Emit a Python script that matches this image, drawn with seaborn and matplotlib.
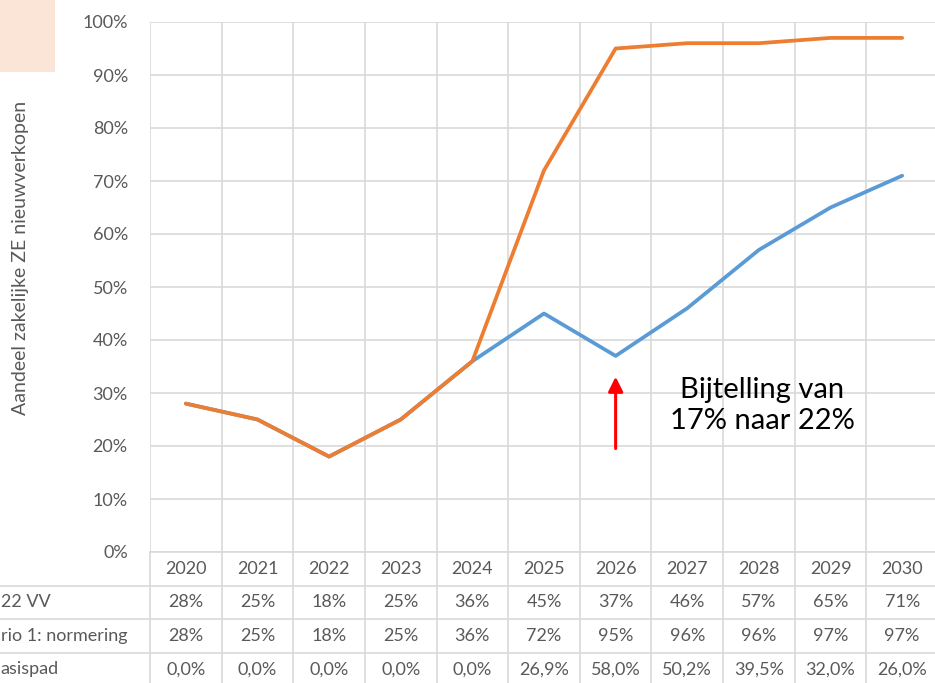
import pandas as pd
import matplotlib.pyplot as plt
import seaborn as sns
from matplotlib.patches import Rectangle

years = [2020, 2021, 2022, 2023, 2024, 2025, 2026, 2027, 2028, 2029, 2030]
kev_vv = [28, 25, 18, 25, 36, 45, 37, 46, 57, 65, 71]
normering = [28, 25, 18, 25, 36, 72, 95, 96, 96, 97, 97]
basispad = ['0,0%', '0,0%', '0,0%', '0,0%', '0,0%', '26,9%', '58,0%', '50,2%', '39,5%', '32,0%', '26,0%']
row_labels = ['22 VV', 'rio 1: normering', 'asispad']
series_names = ['KEV 2022 VV', 'Scenario 1: normering']
yticks = [0, 10, 20, 30, 40, 50, 60, 70, 80, 90, 100]

sns.set_theme(style='white')
plt.rcParams['font.family'] = ['Lato', 'DejaVu Sans']

grey = '#595959'
gridc = '#D9D9D9'
colors = {'KEV 2022 VV': '#5B9BD5', 'Scenario 1: normering': '#ED7D31'}

df = pd.DataFrame({
    'year': years * 2,
    'value': kev_vv + normering,
    'series': [series_names[0]] * len(years) + [series_names[1]] * len(years),
})

W, H = 935, 683
fig = plt.figure(figsize=(W / 100, H / 100), dpi=100)

# pixel geometry of the plot area
x0, x1 = 150, 938
y_top, y_bot = 22, 552
ax = fig.add_axes([x0 / W, 1 - y_bot / H, (x1 - x0) / W, (y_bot - y_top) / H])

sns.lineplot(data=df, x='year', y='value', hue='series', palette=colors,
             hue_order=series_names, linewidth=2.7, ax=ax, legend=False)
for ln in ax.lines:
    ln.set_solid_capstyle('round')
    ln.set_solid_joinstyle('round')

ax.set_xlim(years[0] - 0.5, years[-1] + 0.5)
ax.set_ylim(0, 100)
ax.set_yticks(yticks)
ax.set_yticklabels([f'{t}%' for t in yticks], color=grey, fontsize=13)
ax.tick_params(axis='y', length=0, pad=16)
ax.set_xticks([])
bounds = [y - 0.5 for y in years] + [years[-1] + 0.5]
for b in bounds:
    ax.axvline(b, color=gridc, lw=1.2, zorder=0)
for t in yticks:
    ax.axhline(t, color=gridc, lw=1.2, zorder=0)
for s in ax.spines.values():
    s.set_visible(False)
ax.set_xlabel('')
ax.set_ylabel('')

# annotation
ax.annotate('', xy=(2026, 33.6), xytext=(2026, 19.0),
            arrowprops=dict(arrowstyle='-|>', color='red', lw=2.2, mutation_scale=22))
ax.text(2028.05, 27.7, 'Bijtelling van\n17% naar 22%', ha='center', va='center',
        fontsize=21, color='black', linespacing=1.22)

# data table below the plot
t_bot = 686
tab = fig.add_axes([x0 / W, 1 - t_bot / H, (x1 - x0) / W, (t_bot - y_bot) / H])
tab.set_xlim(years[0] - 0.5, years[-1] + 0.5)
tab.set_ylim(4, 0)
tab.axis('off')
left_edge = years[0] - 0.5 - x0 / ((x1 - x0) / len(years))
for b in bounds:
    tab.plot([b, b], [0, 4], color=gridc, lw=1.2, clip_on=False)
tab.plot([years[0] - 0.5, years[-1] + 0.5], [0, 0], color=gridc, lw=1.2, clip_on=False)
for r in [1, 2, 3]:
    tab.plot([left_edge, years[-1] + 0.5], [r, r], color=gridc, lw=1.2, clip_on=False)

rows = [[str(y) for y in years],
        [f'{v}%' for v in kev_vv],
        [f'{v}%' for v in normering],
        basispad]
for r, vals in enumerate(rows):
    for y, v in zip(years, vals):
        tab.text(y, r + 0.5, v, ha='center', va='center', fontsize=13, color=grey)
for r, lab in enumerate(row_labels, start=1):
    tab.text(left_edge + 0.01, r + 0.5, lab, ha='left', va='center', fontsize=13,
             color=grey, clip_on=False)

# y axis title
fig.text(21 / W, 1 - 258 / H, 'Aandeel zakelijke ZE nieuwverkopen', rotation=90,
         ha='center', va='center', fontsize=14, color=grey)

# peach box in the corner
fig.patches.append(Rectangle((0, 1 - 72 / H), 55 / W, 72 / H, transform=fig.transFigure,
                             facecolor='#FBE5D6', edgecolor='none'))

fig.savefig('out.png', dpi=100)
